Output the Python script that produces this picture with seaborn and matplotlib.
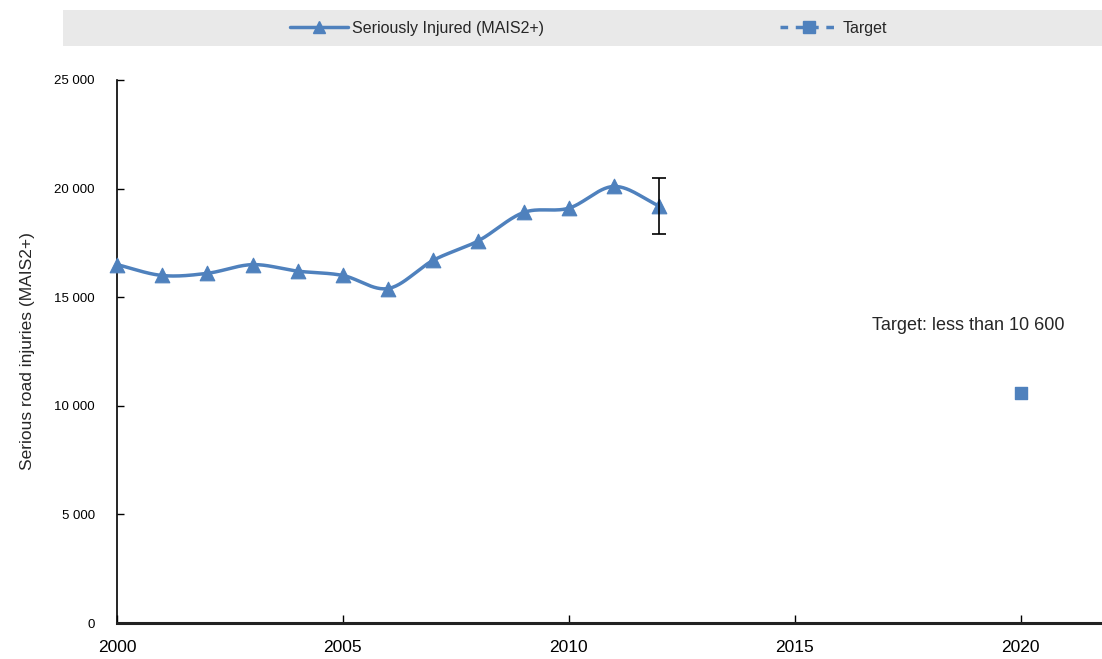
import numpy as np
import pandas as pd
import matplotlib
matplotlib.use("Agg")
import matplotlib.pyplot as plt
import seaborn as sns
from matplotlib.lines import Line2D
from matplotlib.ticker import FuncFormatter

years = [2000, 2001, 2002, 2003, 2004, 2005, 2006, 2007, 2008, 2009, 2010, 2011, 2012]
injured = [16500, 16000, 16100, 16500, 16200, 16000, 15400, 16700, 17600, 18900, 19100, 20100, 19200]
err_year = 2012
err_low = 17900
err_high = 20500
target_year = [2020]
target_val = [10600]

blue = "#4f81bd"

sns.set_theme(style="white")
plt.rcParams['font.family'] = ['Liberation Sans', 'DejaVu Sans']

fig = plt.figure(figsize=(11.02, 6.59), dpi=100)
ax = fig.add_axes([117 / 1102, 1 - 623 / 659, 1 - 117 / 1102, (623 - 80) / 659])

df = pd.DataFrame({"year": years, "injured": injured})

# smoothed line (catmull-rom, like excel's smoothed lines)
x = np.array(years, dtype=float)
y = np.array(injured, dtype=float)
px = np.concatenate([[2 * x[0] - x[1]], x, [2 * x[-1] - x[-2]]])
py = np.concatenate([[2 * y[0] - y[1]], y, [2 * y[-1] - y[-2]]])
sx, sy = [], []
t = np.linspace(0, 1, 30)
for i in range(1, len(px) - 2):
    p0, p1, p2, p3 = px[i - 1:i + 3]
    q0, q1, q2, q3 = py[i - 1:i + 3]
    sx.append(0.5 * (2 * p1 + (-p0 + p2) * t + (2 * p0 - 5 * p1 + 4 * p2 - p3) * t ** 2 + (-p0 + 3 * p1 - 3 * p2 + p3) * t ** 3))
    sy.append(0.5 * (2 * q1 + (-q0 + q2) * t + (2 * q0 - 5 * q1 + 4 * q2 - q3) * t ** 2 + (-q0 + 3 * q1 - 3 * q2 + q3) * t ** 3))
sx = np.concatenate(sx)
sy = np.concatenate(sy)
ax.plot(sx, sy, color=blue, lw=2.5, zorder=3, clip_on=False)
sns.scatterplot(data=df, x="year", y="injured", marker="^", s=110, color=blue, edgecolor=blue,
                ax=ax, zorder=4, clip_on=False)

ax.errorbar([err_year], [injured[-1]],
            yerr=[[injured[-1] - err_low], [err_high - injured[-1]]],
            fmt="none", ecolor="black", elinewidth=1.2, capsize=5, capthick=1.2, zorder=5)

ax.scatter(target_year, target_val, marker="s", s=80, color=blue, zorder=4)
ax.text(2016.7, 13500, "Target: less than 10 600", fontsize=13, va="baseline")

ax.set_xlim(2000, 2021.8)
ax.set_ylim(0, 25000)
ax.set_xticks([2000, 2005, 2010, 2015, 2020])
ax.set_yticks(range(0, 25001, 5000))
ax.yaxis.set_major_formatter(FuncFormatter(lambda v, p: f"{int(v):,}".replace(",", " ")))
ax.tick_params(axis="x", direction="in", length=6, width=1, colors="black", labelsize=12.5, pad=12)
ax.tick_params(axis="y", direction="in", length=5, width=1, colors="black", labelsize=9.5, pad=16)
ax.tick_params(left=True, bottom=True)
for s in ["top", "right"]:
    ax.spines[s].set_visible(False)
ax.spines["left"].set_color("black")
ax.spines["left"].set_linewidth(1.2)
ax.spines["bottom"].set_color("#222222")
ax.spines["bottom"].set_linewidth(2.2)
ax.set_xlabel("")
ax.set_ylabel("Serious road injuries (MAIS2+)", fontsize=12.5, labelpad=14)

# legend band
band = plt.Rectangle((63 / 1102, 1 - 46 / 659), 1 - 63 / 1102, 36 / 659,
                     transform=fig.transFigure, facecolor="#e9e9e9", edgecolor="none")
fig.patches.append(band)
h1 = Line2D([], [], color=blue, lw=2.5, marker="^", markersize=9)
h2 = Line2D([], [], color=blue, lw=2.5, ls=(0, (2.2, 2.2)), marker="s", markersize=8)
fig.legend([h1], ["Seriously Injured (MAIS2+)"], loc="center left",
           bbox_to_anchor=(290 / 1102, 1 - 28 / 659), frameon=False, fontsize=11.5,
           handlelength=3.6, handletextpad=0.3, borderaxespad=0, borderpad=0)
fig.legend([h2], ["Target"], loc="center left",
           bbox_to_anchor=(780 / 1102, 1 - 28 / 659), frameon=False, fontsize=11.5,
           handlelength=3.6, handletextpad=0.3, borderaxespad=0, borderpad=0)

fig.savefig("out.png", dpi=100)
